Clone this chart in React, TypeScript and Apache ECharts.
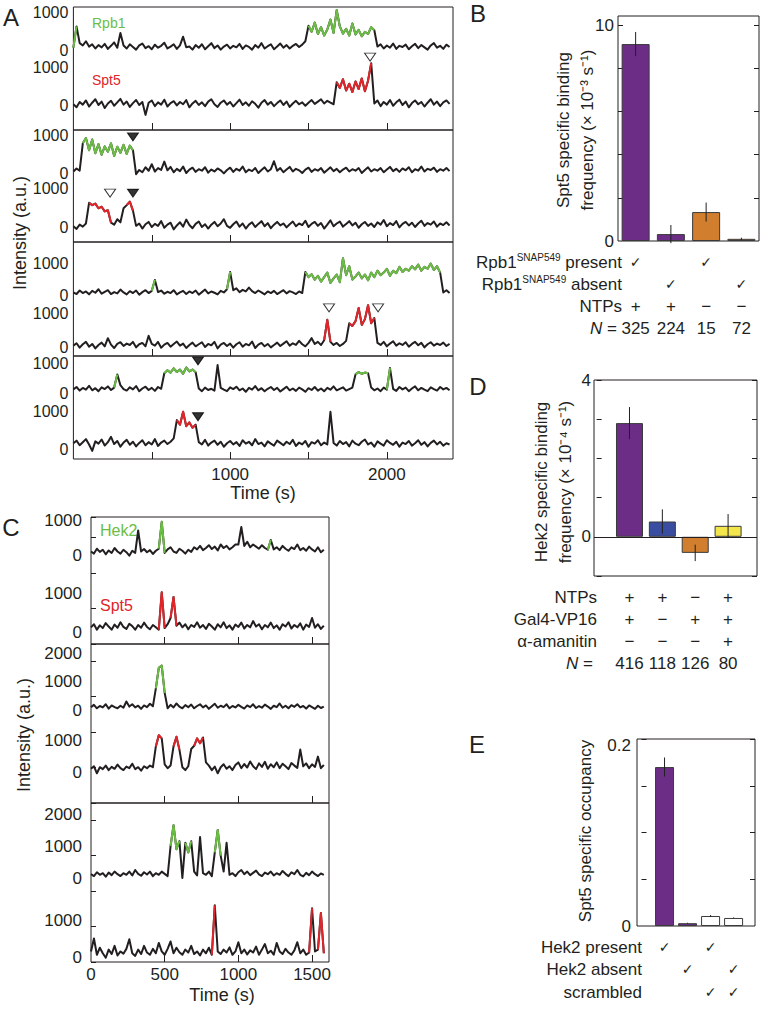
import React, { useEffect, useRef } from "react";
import * as echarts from "echarts";

const FONT = '"Liberation Sans", Arial, Helvetica, sans-serif';
const INK = "#231f20";
const GREEN = "#6cbd45";
const RED = "#e0252b";
const PURPLE = "#6c2d87";
const ORANGE = "#d17f2e";
const BLUE = "#3a4ea1";
const YELLOW = "#f2e64c";

// ---------- Panel A traces: one value every 20 s, 0–2400 s ----------
const A_STEP = 20;
const a1Rpb1 = [
  60, 620, 180, 120, 230, 90, 150, 40, 130, 70,
  160, 30, 110, 200, 60, 450, 120, 40, 150, 80,
  10, 120, 170, 50, 100, 20, 140, 60, 110, 190,
  40, 90, 150, 30, 120, 350, 70, 90, 10, 130,
  60, 150, 20, 100, 180, 50, 120, 10, 90, 140,
  40, 110, 70, 160, 30, 120, 80, 10, 130, 60,
  180, 40, 100, 150, 20, 90, 170, 60, 130, 40,
  110, 160, 80, 140, 230, 640, 480, 720, 420, 600,
  380, 540, 800, 450, 1050, 620, 430, 560, 380, 700,
  410, 530, 360, 480, 420, 600, 520, 90, 150, 40,
  120, 60, 170, 30, 110, 80, 140, 20, 100, 160,
  50, 130, 70, 10, 120, 180, 60, 110, 30, 140,
  80,
];
const a1Spt5 = [
  20, -60, 80, 10, 120, -40, 60, 150, 0, 90,
  -80, 40, 110, -20, 70, 160, 10, 90, -50, 50,
  130, 0, 80, -260, 60, 120, -30, 70, 10, 140,
  -40, 50, 100, -10, 80, 20, 130, -60, 40, 110,
  0, 70, -30, 90, 150, 20, -50, 60, 120, 10,
  80, -40, 50, 140, 0, 70, -20, 100, 30, -70,
  60, 130, 10, 80, -30, 50, 120, 0, 90, -50,
  40, 110, 20, 70, -20, 60, 130, 30, 90, 150,
  40, 110, 60, 20, 600, 450, 680, 380, 560, 340,
  620, 420, 700, 360, 640, 1100, 40, 120, -30, 80,
  10, 130, -20, 70, 140, 0, 90, -60, 50, 120,
  20, 80, -40, 60, 150, 10, 90, -30, 70, 120,
  30,
];
const a2Rpb1 = [
  40, 120, 60, 780, 920, 600, 880, 520, 760, 480,
  700, 560, 780, 450, 690, 530, 740, 500, 720, 600,
  -30, 80, 20, 150, 60, 230, 40, 130, 80, 300,
  70, 160, 20, 110, 50, 170, 0, 90, 140, 30,
  100, 60, 150, 10, 90, 40, 120, 70, -10, 80,
  140, 30, 110, 60, 170, 20, 90, 50, 130, 0,
  80, 150, 40, 100, 310, 60, 130, 20, 90, 160,
  40, 110, 70, 0, 90, 140, 30, 100, 60, 130,
  10, 80, 150, 50, 110, 20, 90, 140, 40, 100,
  60, 130, 0, 80, 150, 40, 100, 60, 130, 20,
  90, 160, 50, 110, 30, 120, 70, 150, 20, 100,
  60, 170, 40, 110, 80, 140, 30, 100, 60, 130,
  50,
];
const a2Spt5 = [
  20, -50, 60, 10, 90, 620, 560, 600, 480, 520,
  400, 430, 110, 60, 200, 120, 480, 560, 650, 420,
  30, 90, -40, 70, 130, 0, 80, 30, 150, -20,
  60, 110, -60, 40, 120, 10, 190, 50, -30, 80,
  140, 0, 70, -40, 60, 130, 20, 90, 200, 30,
  -20, 70, 140, 10, 90, -40, 60, 120, 0, 80,
  150, 20, 100, -30, 60, 130, 40, 90, -10, 70,
  140, 20, 90, 50, 160, 0, 80, 130, 30, 100,
  -40, 60, 170, 20, 90, 140, 10, 80, 150, 40,
  110, -20, 70, 130, 30, 90, 0, 120, 60, 180,
  20, 100, 50, 150, -10, 80, 130, 40, 110, 0,
  90, 160, 30, 100, 60, 140, 10, 90, 50, 120,
  40,
];
const a3Rpb1 = [
  80, 30, 140, 60, 110, 20, 130, 70, 180, 40,
  100, 150, 30, 90, 50, 170, 80, 20, 120, 60,
  140, 10, 90, 150, 60, 130, 470, 90, 140, 40,
  100, 60, 150, 20, 80, 130, 30, 110, 60, 140,
  10, 90, 170, 50, 110, 70, 20, 130, 80, 180,
  720, 150, 210, 90, 160, 110, 230, 120, 60, 140,
  80, 20, 110, 60, 130, 30, 90, 150, 50, 120,
  80, 30, 110, 60, 720, 560, 650, 480, 600, 420,
  560, 700, 380, 520, 640, 400, 1150, 620, 900, 480,
  580, 700, 520, 640, 460, 700, 560, 760, 620, 700,
  820, 600, 760, 680, 880, 720, 820, 760, 900, 800,
  950, 760, 880, 820, 980, 780, 900, 700, 80, 150,
  60,
];
const a3Spt5 = [
  40, 110, -20, 80, 150, 10, 90, -40, 60, 130,
  20, 260, 70, -30, 90, 140, 30, 100, 60, 150,
  -10, 80, 120, 20, 330, 90, 40, 150, -20, 70,
  120, 10, 90, 160, 40, 100, -30, 60, 130, 20,
  80, 140, 0, 90, 50, 150, -40, 70, 120, 30,
  100, -20, 80, 140, 10, 90, 50, 160, -30, 70,
  120, 20, 90, -10, 60, 130, 30, 100, 170, 40,
  110, 60, 180, 80, 20, 120, 260, 90, 150, 60,
  200, 800, 150, 60, 120, 30, 90, 180, 700, 620,
  760, 1150, 650, 820, 1230, 700, 850, 120, 60, 150,
  20, 100, 170, 40, 110, 60, 140, 10, 90, 150,
  50, 120, -10, 80, 140, 40, 100, 60, 130, 30,
  90,
];
const a4Rpb1 = [
  120, 200, 80, 170, 110, 240, 90, 160, 60, 190,
  130, 220, 100, 180, 620, 260, 130, 80, 190, 120,
  230, 60, 150, 210, 100, 170, 70, 200, 140, 660,
  760, 680, 820, 700, 780, 640, 850, 720, 780, 690,
  150, 60, 180, 100, 140, 80, 930, 170, 110, 60,
  190, 130, 210, 90, 150, 40, 170, 110, 230, 90,
  160, 60, 140, 200, 100, 170, 50, 130, 210, 90,
  150, 70, 180, 120, 40, 160, 100, 200, 80, 150,
  60, 170, 110, 220, 90, 140, 190, 80, 130, 180,
  620, 700, 640, 680, 660, 180, 90, 150, 60, 180,
  110, 830, 140, 70, 200, 120, 180, 60, 150, 220,
  90, 170, 110, 60, 190, 130, 80, 200, 120, 170,
  90,
];
const a4Spt5 = [
  150, 220, 100, 180, 260, 120, -50, 200, 140, 250,
  90, 180, 320, 130, 210, 60, 170, 240, 110, 190,
  70, 160, 230, 100, 180, 120, 260, 80, 170, 220,
  130, 190, 280, 760, 640, 980, 600, 700, 560, 640,
  180, 120, 240, 90, 170, 220, 110, 190, 60, 150,
  210, 120, 180, 80, 230, 140, 190, 100, 260, 130,
  170, 70, 200, 140, 90, 220, 160, 100, 190, 130,
  240, 80, 170, 120, 210, 60, 180, 140, 230, 100,
  170, 120, 980, 160, 90, 210, 130, 180, 70, 220,
  140, 100, 190, 250, 120, 170, 60, 200, 140, 90,
  230, 160, 110, 190, 60, 170, 130, 210, 90, 150,
  230, 110, 180, 70, 160, 220, 120, 190, 90, 150,
  120,
];
// coloured (bound-state) stretches, [from s, to s]
const a1Rpb1Green = [[0, 20], [1500, 1920]];
const a1Spt5Red = [[1680, 1900]];
const a2Rpb1Green = [[60, 380]];
const a2Spt5Red = [[100, 240], [340, 380]];
const a3Rpb1Green = [[500, 520], [980, 1000], [1480, 2340]];
const a3Spt5Red = [[1600, 1640], [1760, 1920]];
const a4Rpb1Green = [[260, 280], [580, 780], [1800, 1880], [2000, 2020]];
const a4Spt5Red = [[660, 780]];
// arrowheads: [box, trace, time s, intensity, open(1)/filled(0)]
const aMarkers = [
  [0, 1, 1893, 1260, 1],
  [1, 0, 380, 950, 0],
  [1, 1, 234, 870, 1],
  [1, 1, 380, 870, 0],
  [2, 1, 1631, 1150, 1],
  [2, 1, 1944, 1150, 1],
  [3, 0, 795, 1070, 0],
  [3, 1, 795, 850, 0],
];
const aTimeTicks = [500, 1000, 1500, 2000];
const aTimeLabels = [1000, 2000];

// ---------- Panel C traces: one value every 20 s, 0–1580 s ----------
const C_STEP = 20;
const c1Hek2 = [
  100, 40, 180, 90, 150, 20, 130, 60, 200, 100,
  40, 150, 80, -20, 120, 60, 700, 100, 170, 80,
  140, 30, 120, 180, 950, 60, 160, 220, 100, 60,
  180, 120, 40, 150, 90, 220, 160, 260, 140, 200,
  280, 170, 240, 130, 300, 200, 260, 160, 220, 300,
  300, 800, 260, 380, 220, 300, 240, 180, 280, 200,
  150, 430, 160, 220, 140, 260, 180, 120, 220, 170,
  300, 140, 200, 120, 240, 160, 100, 220, 80, 150,
];
const c1Spt5 = [
  120, 200, 60, 170, 100, 230, 140, 60, 190, 110,
  250, 130, 80, 210, 150, 60, 180, 110, 240, 130,
  70, 180, 120, 60, 1020, 100, 200, 360, 900, 160,
  240, 120, 200, 70, 180, 130, 250, 110, 180, 80,
  210, 140, 60, 200, 120, 250, 100, 170, 60, 190,
  130, 240, 90, 180, 120, 280, 140, 200, 70, 180,
  120, 240, 100, 170, 60, 200, 140, 250, 90, 180,
  120, 220, 60, 190, 130, 360, 110, 200, 80, 160,
];
const c2Hek2 = [
  100, 180, 60, 140, 90, 200, 50, 160, 100, 60,
  150, 80, 300, 120, 200, 90, 150, 40, 160, 100,
  220, 130, 760, 1480, 1560, 600, 60, 180, 90, 230,
  120, 60, 170, 100, 190, 60, 140, 200, 90, 160,
  40, 130, 220, 80, 150, 100, 200, 60, 140, 90,
  180, 110, 50, 160, 100, 200, 70, 140, 80, 190,
  120, 40, 150, 100, 230, 80, 150, 60, 170, 110,
  200, 90, 140, 50, 160, 100, 40, 150, 70, 120,
];
const c2Spt5 = [
  100, 180, -40, 150, 90, 200, 60, 160, 100, 230,
  120, 60, 170, 120, 260, 90, 150, 40, 180, 120,
  200, 150, 800, 1150, 1050, 240, 120, 200, 800, 1100,
  700, 150, 60, 180, 720, 820, 1050, 900, 1080, 300,
  200, 60, 170, -40, 150, 240, 100, 180, 60, 220,
  300, 120, 250, 140, 330, 180, 90, 270, 160, 320,
  100, 240, 150, 300, 120, 260, 180, 90, 280, 200,
  130, 700, 180, 270, 120, 240, 160, 480, 120, 220,
];
const c3Hek2 = [
  120, 60, 180, 100, 150, 40, 170, 90, 200, 120,
  60, 150, 100, 200, 80, 250, 130, 70, 180, 110,
  200, 60, 150, 100, 200, 130, 60, 1000, 1650, 900,
  1150, 0, 1100, 800, 1150, 200, 80, 1280, 150, 100,
  200, 60, 800, 1500, 700, 200, 1100, 100, 150, 60,
  180, 250, 120, 200, 90, 160, 230, 110, 60, 170,
  120, 200, 80, 150, 100, 220, 130, 60, 180, 120,
  250, 100, 50, 160, 90, 200, 120, 60, 140, 100,
];
const c3Spt5 = [
  150, 500, 60, 250, 100, -20, 200, 80, 300, 40,
  150, 90, 220, 480, 100, 30, 200, 80, 300, 120,
  60, 220, 100, 380, 150, 60, 220, 420, 100, 250,
  130, 60, 200, 120, 300, 80, 150, 40, 200, 100,
  250, 60, 1400, 150, 80, 200, 120, 260, 60, 150,
  400, 100, 200, 70, 180, 120, 280, 60, 200, 350,
  100, 170, 60, 380, 150, 80, 220, 120, 60, 180,
  400, 100, 200, 60, 120, 1320, 150, 200, 1190, 100,
];
const c1Hek2Green = [[460, 500], [1200, 1220]];
const c1Spt5Red = [[460, 500], [540, 580]];
const c2Hek2Green = [[440, 500]];
const c2Spt5Red = [[440, 480], [560, 600], [700, 760]];
const c3Hek2Green = [[540, 600], [640, 680], [840, 880]];
const c3Spt5Red = [[820, 840], [1480, 1500], [1540, 1580]];
const cTimeTicks = [500, 1000, 1500];
const cTimeLabels = [0, 500, 1000, 1500];

// ---------- Panel B ----------
const bValues = [9.12, 0.32, 1.34, 0.1];
const bErrors = [0.56, 0.42, 0.44, 0.05];
const bPresent = ["✓", "", "✓", ""];
const bAbsent = ["", "✓", "", "✓"];
const bNTPs = ["+", "+", "−", "−"];
const bN = ["325", "224", "15", "72"];

// ---------- Panel D ----------
const dValues = [2.9, 0.39, -0.41, 0.28];
const dErrors = [0.41, 0.31, 0.21, 0.3];
const dNTPs = ["+", "+", "−", "+"];
const dGal4 = ["+", "−", "+", "+"];
const dAmanitin = ["−", "−", "−", "+"];
const dN = ["416", "118", "126", "80"];

// ---------- Panel E ----------
const eValues = [0.17, 0.003, 0.0107, 0.0086];
const eErrors = [0.0102, 0.0005, 0.001, 0.0005];
const eHek2Present = ["✓", "", "✓", ""];
const eHek2Absent = ["", "✓", "", "✓"];
const eScrambled = ["", "", "✓", "✓"];

const plain = (v: number) => String(v);

function buildOption() {
  const grid: any[] = [];
  const xAxis: any[] = [];
  const yAxis: any[] = [];
  const series: any[] = [];
  const graphic: any[] = [];

  const addGrid = (g: any, x: any, y: any) => {
    grid.push(g);
    const gi = grid.length - 1;
    x.gridIndex = gi;
    y.gridIndex = gi;
    xAxis.push(x);
    yAxis.push(y);
    return { gi, xi: xAxis.length - 1, yi: yAxis.length - 1 };
  };

  const text = (x: number, y: number, t: string, size: number, extra: any = {}, rot = 0) => {
    const { fill, align, ...rest } = extra;
    graphic.push({
      type: "text",
      x,
      y,
      rotation: rot,
      silent: true,
      style: {
        text: t,
        fontSize: size,
        fontFamily: FONT,
        fill: fill || INK,
        align: align || "center",
        verticalAlign: "middle",
        textAlign: align || "center",
        textVerticalAlign: "middle",
        ...rest,
      },
    });
  };

  const tracePanel = (P: any) => {
    const out: any[] = [];
    P.boxes.forEach((box: any, bi: number) => {
      const g = { left: P.left, top: box.top, width: P.right - P.left, height: box.bottom - box.top };
      const last = bi === P.boxes.length - 1;
      addGrid(
        { ...g, show: true, borderColor: INK, borderWidth: 1, backgroundColor: "rgba(0,0,0,0)" },
        {
          type: "value",
          min: 0,
          max: P.xmax,
          axisLine: { show: false },
          splitLine: { show: false },
          axisTick: { show: true, inside: true, length: 7, customValues: P.ticks, lineStyle: { color: INK, width: 1 } },
          axisLabel: last
            ? { show: true, customValues: P.xLabels, formatter: plain, fontSize: 17, color: INK, margin: P.xLabelMargin, fontFamily: FONT }
            : { show: false },
        },
        {
          type: "value",
          min: 0,
          max: P.frameTick ? (box.bottom - box.top) / P.frameTick : 1,
          interval: 1,
          show: !!P.frameTick,
          axisLine: { show: false },
          splitLine: { show: false },
          axisLabel: { show: false },
          axisTick: { show: true, inside: true, length: 5, lineStyle: { color: INK } },
        }
      );
      const axes: any[] = [];
      box.traces.forEach((tr: any) => {
        const ymin = -(box.bottom - tr.y0) / tr.s;
        const ymax = (tr.y0 - box.top) / tr.s;
        const { xi, yi } = addGrid(
          { ...g },
          { type: "value", min: 0, max: P.xmax, show: false },
          {
            type: "value",
            min: ymin,
            max: ymax,
            axisLine: { show: false },
            axisTick: { show: false },
            splitLine: { show: false },
            axisLabel: {
              show: true,
              customValues: tr.labels,
              formatter: plain,
              fontSize: P.yLabelSize,
              color: INK,
              margin: P.yLabelMargin,
              fontFamily: FONT,
            },
          }
        );
        const pts = tr.data.map((v: number, i: number) => [i * P.step, v]);
        series.push({
          type: "line",
          xAxisIndex: xi,
          yAxisIndex: yi,
          data: pts,
          symbol: "none",
          silent: true,
          z: 2,
          lineStyle: { color: INK, width: P.lineWidth, join: "round" },
        });
        tr.hi.forEach((r: number[]) => {
          series.push({
            type: "line",
            xAxisIndex: xi,
            yAxisIndex: yi,
            data: pts.filter((p: number[]) => p[0] >= r[0] && p[0] <= r[1]),
            symbol: "none",
            silent: true,
            z: 3,
            lineStyle: { color: tr.color, width: P.lineWidth, join: "round" },
          });
        });
        axes.push({ xi, yi });
      });
      out.push(axes);
    });
    return out;
  };

  // ---- Panel A
  const aAxes = tracePanel({
    left: 73.4,
    right: 453,
    xmax: 2422,
    step: A_STEP,
    ticks: aTimeTicks,
    xLabels: aTimeLabels,
    xLabelMargin: 7,
    yLabelSize: 16,
    yLabelMargin: 5,
    lineWidth: 2,
    boxes: [
      {
        top: 7,
        bottom: 130,
        traces: [
          { data: a1Rpb1, hi: a1Rpb1Green, color: GREEN, y0: 50, s: 0.038, labels: [0, 1000] },
          { data: a1Spt5, hi: a1Spt5Red, color: RED, y0: 105, s: 0.038, labels: [0, 1000] },
        ],
      },
      {
        top: 130,
        bottom: 242,
        traces: [
          { data: a2Rpb1, hi: a2Rpb1Green, color: GREEN, y0: 173, s: 0.038, labels: [0, 1000] },
          { data: a2Spt5, hi: a2Spt5Red, color: RED, y0: 227, s: 0.039, labels: [0, 1000] },
        ],
      },
      {
        top: 242,
        bottom: 356,
        traces: [
          { data: a3Rpb1, hi: a3Rpb1Green, color: GREEN, y0: 295, s: 0.032, labels: [0, 1000] },
          { data: a3Spt5, hi: a3Spt5Red, color: RED, y0: 347, s: 0.034, labels: [0, 1000] },
        ],
      },
      {
        top: 356,
        bottom: 459,
        traces: [
          { data: a4Rpb1, hi: a4Rpb1Green, color: GREEN, y0: 393, s: 0.03, labels: [0, 1000] },
          { data: a4Spt5, hi: a4Spt5Red, color: RED, y0: 449, s: 0.038, labels: [0, 1000] },
        ],
      },
    ],
  });
  aMarkers.forEach((m) => {
    const ax = aAxes[m[0]][m[1]];
    series.push({
      type: "scatter",
      xAxisIndex: ax.xi,
      yAxisIndex: ax.yi,
      data: [[m[2], m[3]]],
      symbol: "triangle",
      symbolRotate: 180,
      symbolSize: [11, 8],
      silent: true,
      z: 5,
      itemStyle: { color: m[4] ? "#ffffff" : "#000000", borderColor: "#000000", borderWidth: 1 },
    });
  });

  // ---- Panel C
  tracePanel({
    left: 91,
    right: 329,
    xmax: 1615,
    step: C_STEP,
    ticks: cTimeTicks,
    xLabels: cTimeLabels,
    xLabelMargin: 4,
    yLabelSize: 17,
    yLabelMargin: 9,
    lineWidth: 2,
    frameTick: 35.5,
    boxes: [
      {
        top: 517,
        bottom: 644,
        traces: [
          { data: c1Hek2, hi: c1Hek2Green, color: GREEN, y0: 555, s: 0.035, labels: [0, 1000] },
          { data: c1Spt5, hi: c1Spt5Red, color: RED, y0: 632, s: 0.039, labels: [0, 1000] },
        ],
      },
      {
        top: 644,
        bottom: 803,
        traces: [
          { data: c2Hek2, hi: c2Hek2Green, color: GREEN, y0: 710, s: 0.0285, labels: [0, 1000, 2000] },
          { data: c2Spt5, hi: c2Spt5Red, color: RED, y0: 772, s: 0.032, labels: [0, 1000] },
        ],
      },
      {
        top: 803,
        bottom: 962,
        traces: [
          { data: c3Hek2, hi: c3Hek2Green, color: GREEN, y0: 878, s: 0.032, labels: [0, 1000, 2000] },
          { data: c3Spt5, hi: c3Spt5Red, color: RED, y0: 957, s: 0.037, labels: [0, 1000] },
        ],
      },
    ],
  });

  // ---- Bar panels
  const barPanel = (c: any) => {
    const { xi, yi, gi } = addGrid(
      { left: c.left, top: c.top, width: c.width, height: c.height, show: true, borderColor: INK, borderWidth: 1, backgroundColor: "rgba(0,0,0,0)" },
      { type: "value", min: c.xmin, max: c.xmax, show: false },
      {
        type: "value",
        min: c.ymin,
        max: c.ymax,
        axisLine: { show: false },
        splitLine: { show: false },
        axisTick: { show: true, inside: true, length: 5, customValues: c.yTicks, lineStyle: { color: INK } },
        axisLabel: {
          show: true,
          customValues: c.yLabels,
          formatter: c.labelFormatter || plain,
          rich: c.labelRich,
          fontSize: 17,
          color: INK,
          margin: c.yLabelMargin,
          fontFamily: FONT,
        },
      }
    );
    yAxis.push({
      gridIndex: gi,
      type: "value",
      position: "right",
      min: c.ymin,
      max: c.ymax,
      axisLine: { show: false },
      splitLine: { show: false },
      axisLabel: { show: false },
      axisTick: { show: true, inside: true, length: 5, customValues: c.yTicks, lineStyle: { color: INK } },
    });
    const bar: any = {
      type: "bar",
      xAxisIndex: xi,
      yAxisIndex: yi,
      barWidth: c.barWidth,
      silent: true,
      z: 2,
      data: c.values.map((v: number, i: number) => ({ value: [i + 1, v], itemStyle: { color: c.colors[i] } })),
      itemStyle: { borderColor: "#3a3a3a", borderWidth: 1 },
    };
    if (c.zero) {
      bar.markLine = {
        silent: true,
        symbol: "none",
        label: { show: false },
        lineStyle: { color: INK, width: 1, type: "solid" },
        data: [{ yAxis: 0 }],
      };
    }
    series.push(bar);
    series.push({
      type: "custom",
      xAxisIndex: xi,
      yAxisIndex: yi,
      silent: true,
      z: 4,
      encode: { x: 0, y: 1 },
      data: c.values.map((v: number, i: number) => [i + 1, v, c.errors[i]]),
      renderItem: (params: any, api: any) => {
        const x = api.value(0);
        const y = api.value(1);
        const e = api.value(2);
        const p1 = api.coord([x, y - e]);
        const p2 = api.coord([x, y + e]);
        return {
          type: "line",
          shape: { x1: p1[0], y1: p1[1], x2: p2[0], y2: p2[1] },
          style: { stroke: INK, lineWidth: 1 },
        };
      },
    });
    const colX = (k: number) => c.left + ((k + 1 - c.xmin) / (c.xmax - c.xmin)) * c.width;
    c.rows.forEach((row: any) => {
      const right = c.labelRight + (row.dx || 0);
      if (row.rich) {
        graphic.push({
          type: "text",
          x: right,
          y: row.y,
          silent: true,
          style: {
            text: row.label,
            rich: row.rich,
            fontSize: 17,
            fontFamily: FONT,
            fill: INK,
            align: "right",
            verticalAlign: "middle",
            textAlign: "right",
            textVerticalAlign: "middle",
          },
        });
      } else {
        text(right, row.y, row.label, 17, { align: "right" });
      }
      row.cells.forEach((s: string, k: number) => {
        if (!s) return;
        const isCheck = s === "✓";
        text(colX(k), row.y, s, isCheck ? 14 : 17, isCheck ? { fontFamily: '"DejaVu Sans", sans-serif' } : {});
      });
    });
  };

  const supRich = {
    a: { fontSize: 17, fontFamily: FONT, fill: INK, lineHeight: 20 },
    s: { fontSize: 10, fontFamily: FONT, fill: INK, verticalAlign: "top", lineHeight: 20, padding: [0, 0, 6, 0] },
    i: { fontSize: 17, fontFamily: FONT, fill: INK, fontStyle: "italic" },
  };

  barPanel({
    left: 618,
    top: 16,
    width: 141,
    height: 225,
    xmin: 0.5,
    xmax: 4.5,
    ymin: 0,
    ymax: 10.42,
    yTicks: [2, 4, 6, 8, 10],
    yLabels: [0, 10],
    yLabelMargin: 4,
    barWidth: 28,
    values: bValues,
    errors: bErrors,
    colors: [PURPLE, PURPLE, ORANGE, ORANGE],
    labelRight: 622,
    rows: [
      { y: 262, label: "{a|Rpb1}{s|SNAP549}{a| present}", rich: supRich, cells: bPresent },
      { y: 284, label: "{a|Rpb1}{s|SNAP549}{a| absent}", rich: supRich, cells: bAbsent },
      { y: 306, label: "NTPs", cells: bNTPs },
      { y: 328, label: "{i|N}{a| =}", rich: supRich, cells: bN, dx: -5 },
    ],
  });

  barPanel({
    left: 594,
    top: 380,
    width: 163,
    height: 196,
    xmin: -0.08,
    xmax: 4.88,
    ymin: -1,
    ymax: 4,
    yTicks: [-1, 0, 1, 2, 3, 4],
    yLabels: [0, 4],
    yLabelMargin: 3,
    barWidth: 27,
    values: dValues,
    errors: dErrors,
    colors: [PURPLE, BLUE, ORANGE, YELLOW],
    zero: true,
    labelRight: 597,
    rows: [
      { y: 597, label: "NTPs", cells: dNTPs },
      { y: 619, label: "Gal4-VP16", cells: dGal4 },
      { y: 641, label: "α-amanitin", cells: dAmanitin },
      { y: 663, label: "{i|N}{a| =}", rich: supRich, cells: dN, dx: -4 },
    ],
  });

  barPanel({
    left: 637,
    top: 739,
    width: 118,
    height: 187,
    xmin: -0.196,
    xmax: 4.93,
    ymin: 0,
    ymax: 0.2,
    yTicks: [0.05, 0.1, 0.15, 0.2],
    yLabels: [0, 0.2],
    labelFormatter: (v: number) => (v > 0.1 ? "{t|" + v + "}" : String(v)),
    labelRich: { t: { fontSize: 17, fontFamily: FONT, color: INK, padding: [12, 0, 0, 0] } },
    yLabelMargin: 6,
    barWidth: 19,
    values: eValues,
    errors: eErrors,
    colors: [PURPLE, PURPLE, "#ffffff", "#ffffff"],
    labelRight: 642,
    rows: [
      { y: 947, label: "Hek2 present", cells: eHek2Present },
      { y: 969, label: "Hek2 absent", cells: eHek2Absent },
      { y: 992, label: "scrambled", cells: eScrambled },
    ],
  });

  // ---- titles and labels
  const R = Math.PI / 2;
  text(11, 17, "A", 24);
  text(478, 13, "B", 24);
  text(11, 527, "C", 24);
  text(478, 386, "D", 24);
  text(477, 744, "E", 24);

  text(20, 233, "Intensity (a.u.)", 18, {}, R);
  text(263, 493, "Time (s)", 18);
  text(24, 735, "Intensity (a.u.)", 18, {}, R);
  text(222, 995, "Time (s)", 18);

  text(92, 23, "Rpb1", 14, { fill: GREEN, align: "left" });
  text(92, 80, "Spt5", 14, { fill: RED, align: "left" });
  text(100, 530, "Hek2", 16, { fill: GREEN, align: "left" });
  text(100, 605, "Spt5", 16, { fill: RED, align: "left" });

  text(563, 130, "Spt5 specific binding", 17, {}, R);
  text(587, 130, "frequency (× 10⁻³ s⁻¹)", 17, {}, R);
  text(541, 482, "Hek2 specific binding", 17, {}, R);
  text(565, 482, "frequency (× 10⁻⁴ s⁻¹)", 17, {}, R);
  text(585, 831, "Spt5 specific occupancy", 17, {}, R);

  return {
    animation: false,
    backgroundColor: "#ffffff",
    textStyle: { fontFamily: FONT, color: INK },
    grid,
    xAxis,
    yAxis,
    series,
    graphic,
  };
}

export default function App() {
  const ref = useRef<HTMLDivElement>(null);
  useEffect(() => {
    const chart = echarts.init(ref.current as HTMLDivElement, null, { renderer: "svg" });
    chart.setOption(buildOption() as any);
    return () => chart.dispose();
  }, []);
  return (
    <div
      ref={ref}
      style={{ position: "fixed", left: 0, top: 0, width: 762, height: 1009, background: "#ffffff" }}
    />
  );
}
